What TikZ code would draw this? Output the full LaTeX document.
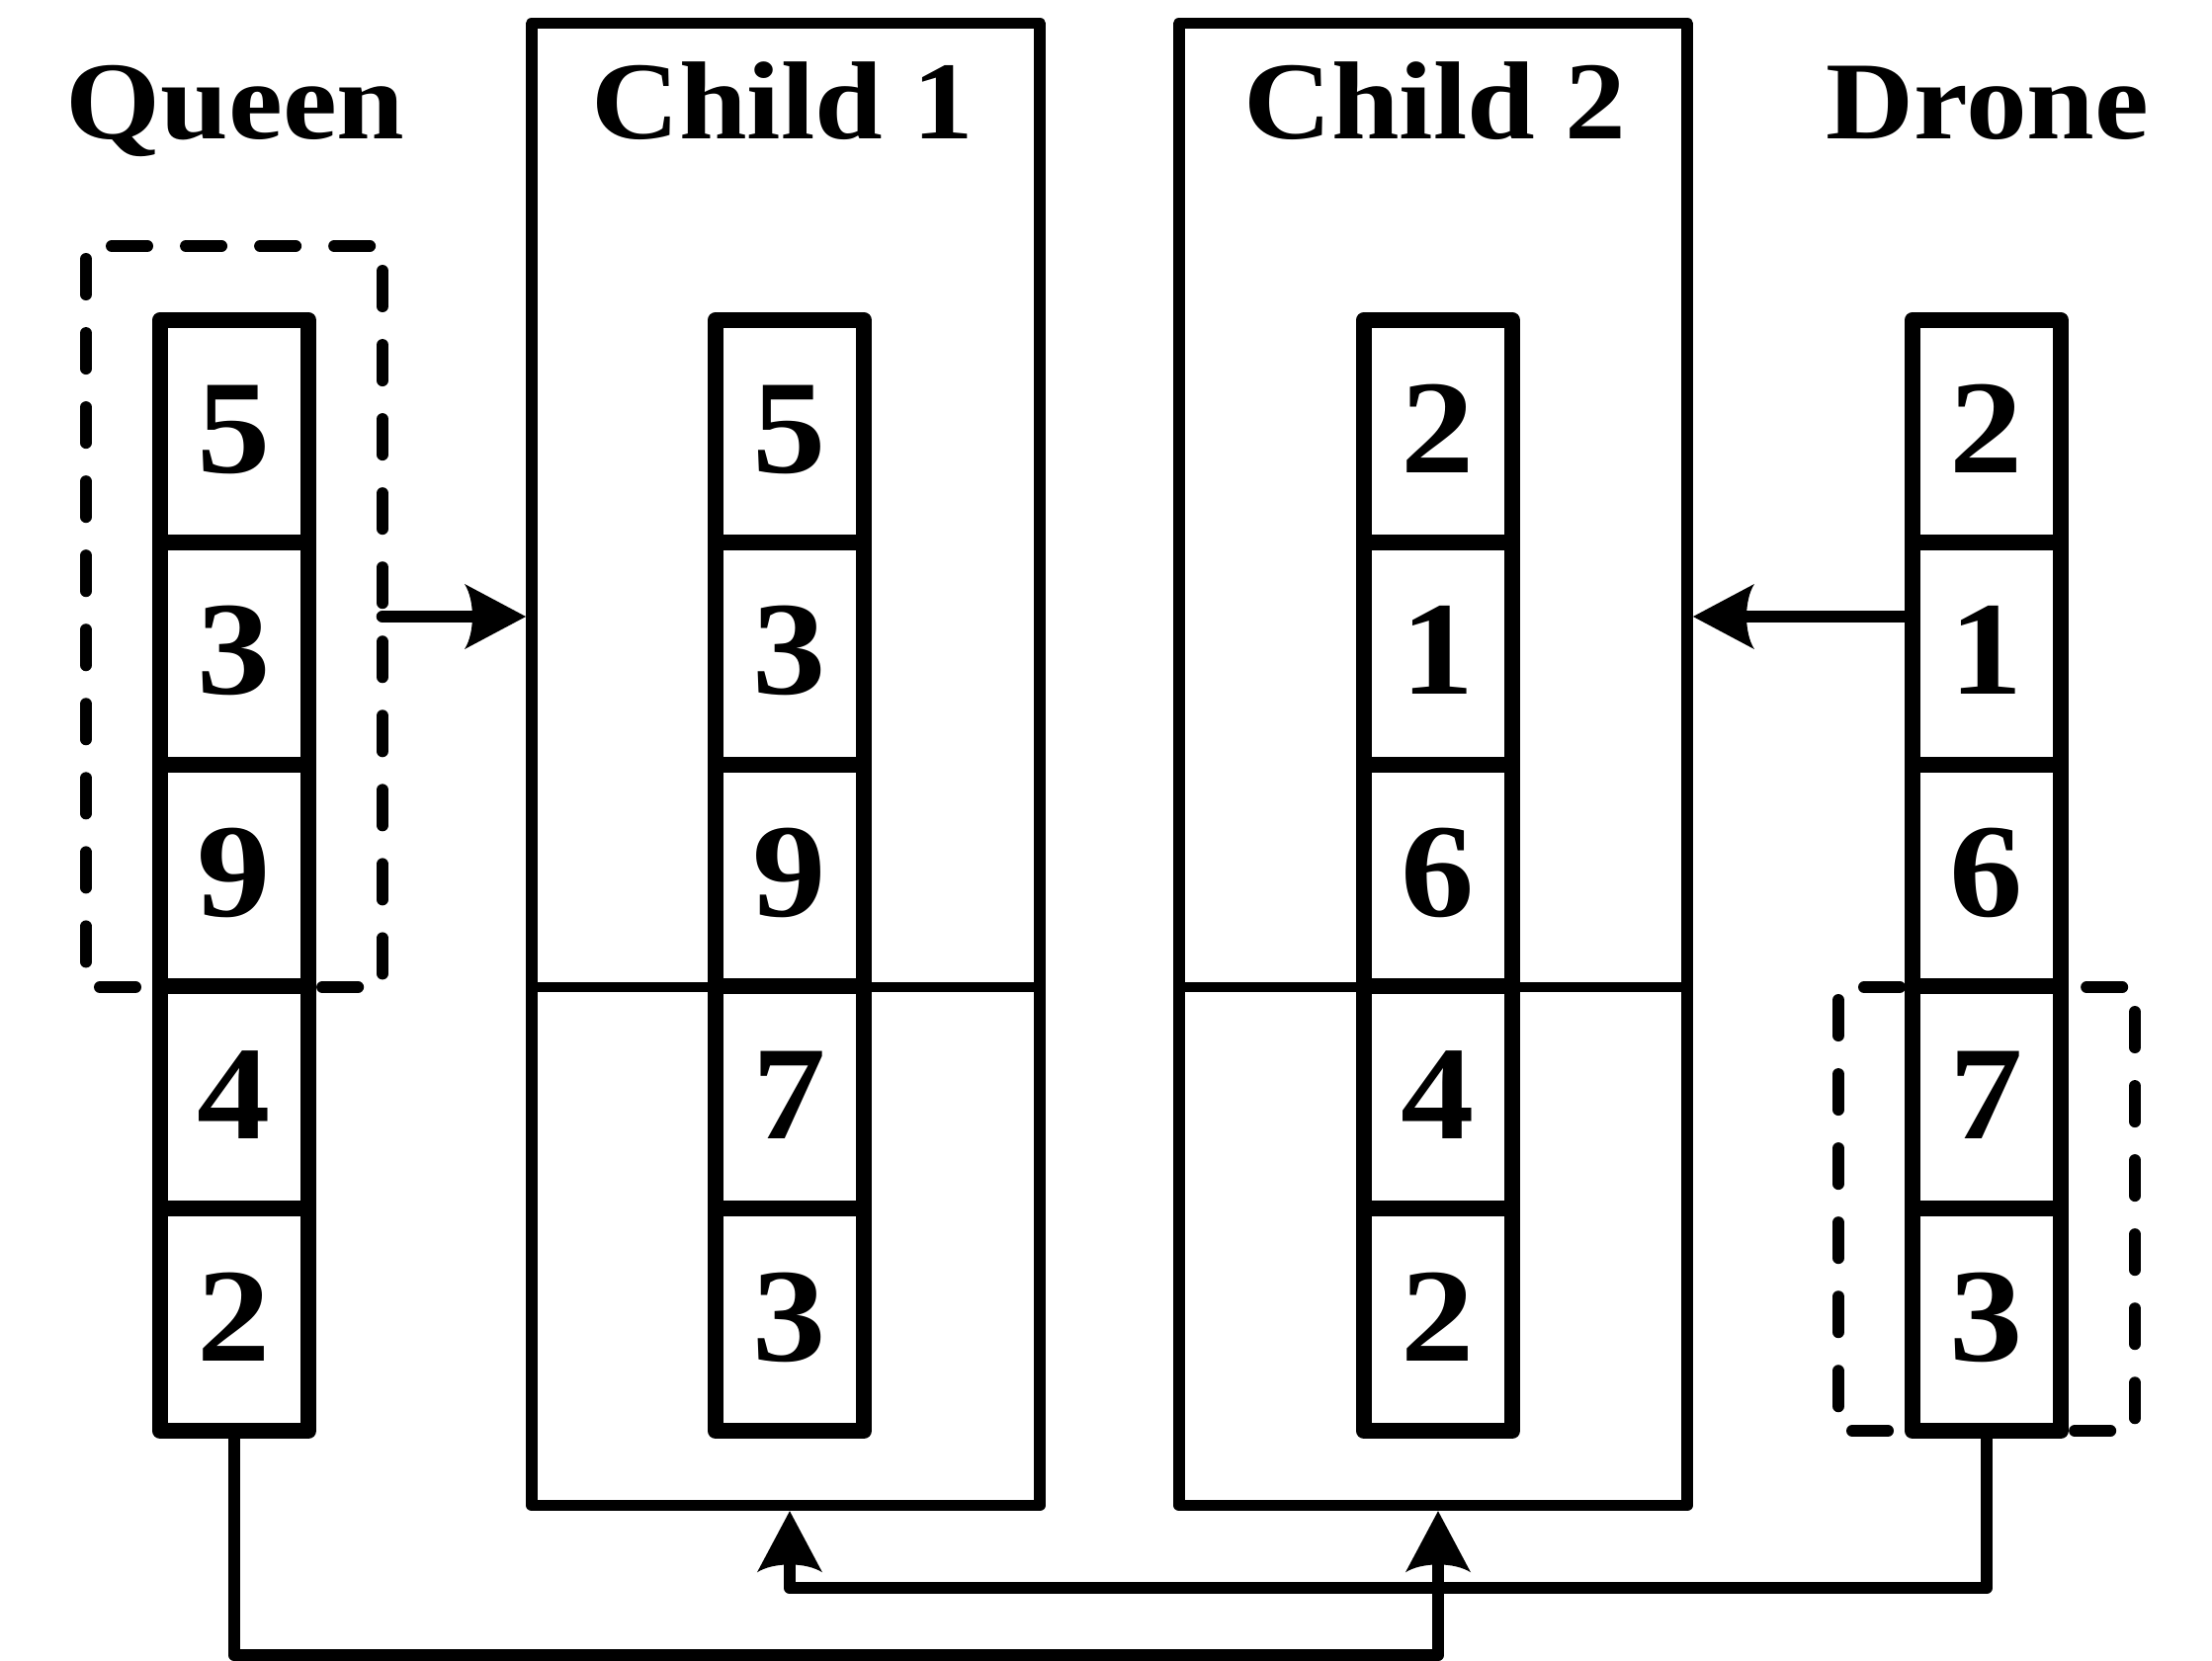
\documentclass[tikz,border=0pt]{standalone}
\usepackage{fontspec}
\setmainfont{Liberation Serif}[FakeStretch=1.1]
\usetikzlibrary{arrows.meta}
\pgfdeclarearrow{
  name = CurvedBack,
  parameters = {\the\pgfarrowlength,\the\pgfarrowwidth},
  setup code = {
    \pgfarrowssettipend{\pgfarrowlength}
    \pgfarrowssetbackend{0pt}
    \pgfarrowssetlineend{0.3\pgfarrowlength}
    \pgfarrowssavethe\pgfarrowlength
    \pgfarrowssavethe\pgfarrowwidth
  },
  drawing code = {
    \pgfpathmoveto{\pgfpoint{\pgfarrowlength}{0pt}}
    \pgfpathlineto{\pgfpoint{0pt}{0.5\pgfarrowwidth}}
    \pgfpathcurveto{\pgfpoint{0.17\pgfarrowlength}{0.25\pgfarrowwidth}}{\pgfpoint{0.17\pgfarrowlength}{-0.25\pgfarrowwidth}}{\pgfpoint{0pt}{-0.5\pgfarrowwidth}}
    \pgfpathclose
    \pgfusepathqfill
  },
  defaults = {length=0.62cm, width=0.66cm}
}
\begin{document}
\begin{tikzpicture}[x=0.01cm,y=-0.01cm,
  cell/.style={draw,fill=white,line width=4.55pt,line join=round,minimum width=1.5cm,minimum height=2.248cm,inner sep=0pt,outer sep=2.27pt},
  bigbox/.style={draw,line width=3.3pt,line join=round,minimum width=5.14cm,minimum height=14.99cm,inner sep=0pt,outer sep=1.65pt},
  divline/.style={line width=3.1pt},
  dig/.style={font=\fontsize{38.4}{40}\selectfont\bfseries,inner sep=0pt},
  lab/.style={font=\fontsize{31.9}{36}\selectfont\bfseries,inner sep=0pt},
  dsh/.style={line width=3.41pt,line cap=round,dash pattern=on 0.36cm off 0.39cm},
  conn/.style={line width=3.56pt,line join=round,line cap=round},
  tip/.style={-{CurvedBack[length=0.62cm,width=0.66cm]}}
]
\useasboundingbox (0,0) rectangle (2238,1681);

% labels
\node[lab,anchor=base] (lq) at (238,140) {Queen};
\node[lab,anchor=base] (l1) at (792,140) {Child 1};
\node[lab,anchor=base] (l2) at (1452,140) {Child 2};
\node[lab,anchor=base] (ld) at (2011,140) {Drone};

% dashed boxes (each side separately)
\draw[dsh,dash phase=0.49cm] (87,249) -- (387,249);
\draw[dsh,dash phase=0.50cm] (387,249) -- (387,999);
\draw[dsh,dash phase=0.61cm] (87,999) -- (387,999);
\draw[dsh,dash phase=0.62cm] (87,249) -- (87,999);

\draw[dsh,dash phase=0.49cm] (1860,999) -- (2160,999);
\draw[dsh,dash phase=0.50cm] (2160,999) -- (2160,1448);
\draw[dsh,dash phase=0.61cm] (1860,1448) -- (2160,1448);
\draw[dsh,dash phase=0.62cm] (1860,999) -- (1860,1448);

% child boxes
\node[bigbox] (c1) at (795,773.5) {};
\node[bigbox] (c2) at (1450,773.5) {};
\draw[divline] (538,999) -- (1052,999);
\draw[divline] (1193,999) -- (1707,999);

% columns
\foreach \col/\xx/\lst in {q/237/{5,3,9,4,2}, a/799/{5,3,9,7,3}, b/1455/{2,1,6,4,2}, d/2010/{2,1,6,7,3}} {
  \foreach \v [count=\i] in \lst {
    \node[cell] (\col\i) at ({\xx},{324+224.8*\i-112.4}) {};
    \node[dig,anchor=base] (\col\i t) at ({\xx},{324+224.8*\i-224.8+154}) {\v};
  }
}

% connectors
\coordinate (qa) at (387,624);
\draw[conn,tip] (qa) -- (qa -| c1.west);
\draw[conn,tip] (d2.west |- qa) -- (c2.east |- qa);

\coordinate (qlow) at (237,1675);
\draw[conn,tip] (q5.south) -- (qlow) -| (b5 |- c2.south);
\coordinate (dlow) at (2010,1607);
\draw[conn,tip] (d5.south) -- (dlow) -| (a5 |- c1.south);
\end{tikzpicture}
\end{document}
